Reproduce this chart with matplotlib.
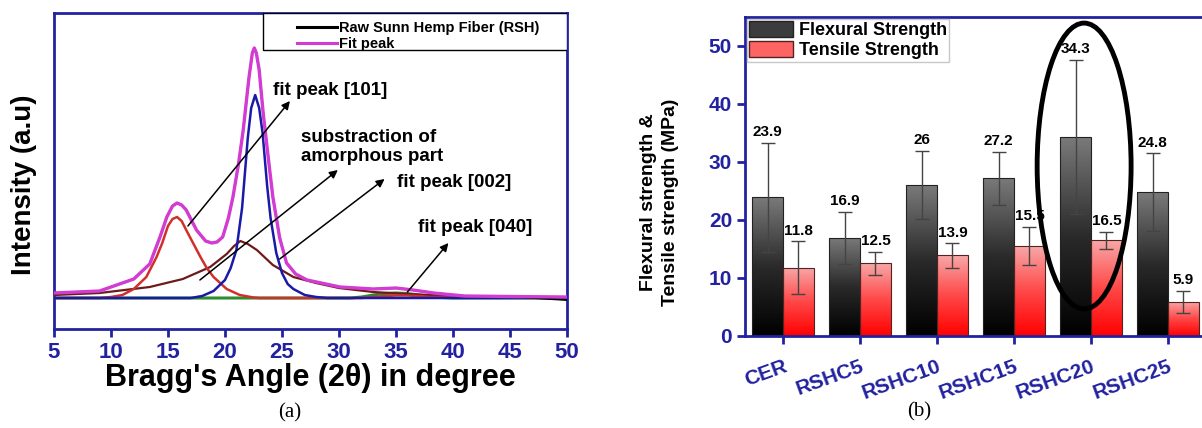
import numpy as np
import matplotlib
matplotlib.use('Agg')
import matplotlib.pyplot as plt
from matplotlib.patches import Ellipse, Patch, Rectangle
from matplotlib.colors import LinearSegmentedColormap

plt.rcParams['font.family'] = ['Liberation Sans', 'DejaVu Sans']
plt.rcParams['font.weight'] = 'bold'

BLUE = '#2222a0'

# ── (a) XRD curves (baseline = 0) ─────────────────────────────────────
blue_x = [5, 17, 18, 19, 20, 20.5, 21, 21.5, 22, 22.3, 22.65, 23, 23.3, 23.7,
          24, 24.5, 25, 25.5, 26, 26.5, 27, 28, 29, 50]
blue_y = [0, 0, 2, 7, 18, 30, 48, 90, 160, 190, 203, 190, 165, 112,
          80, 45, 25, 14, 9, 6, 3, 1, 0, 0]

red_x = [5, 9, 10, 11, 12, 13.1, 14.0, 14.5, 15.0, 15.4, 15.8, 16.2, 16.6, 17.2,
         17.85, 18.4, 19.0, 20.15, 21.3, 22.5, 23, 32, 33, 34, 35, 36, 37, 38, 50]
red_y = [0, 0, 1, 3, 9, 21, 41, 55, 72, 79, 81, 77, 68, 55,
         41, 30, 21, 9, 3, 0.5, 0, 0, 1, 2, 2.5, 2.5, 2, 1, 0]

amor_x = [5, 9, 13.4, 16.3, 18.7, 20.15, 20.8, 21.35, 22, 22.8, 24.2, 26, 28, 30,
          33, 36, 40, 45, 50]
amor_y = [3, 5, 11, 19, 31, 44, 52, 57, 54, 48, 33, 21, 15, 10,
          6, 4, 2, 1, 0.5]

green_x = [5, 31, 32, 33, 34, 35, 36, 37, 38, 39, 40, 50]
green_y = [0, 0, 1, 3, 4.5, 5, 4.5, 3, 1.5, 0.5, 0, 0]

fit_x = [5, 9, 12, 13.4, 14.3, 14.9, 15.4, 15.8, 16.2, 16.6, 17.5, 18.3, 18.83, 19.3,
         19.8, 20.3, 20.7, 21.2, 21.6, 22.1, 22.4, 22.57, 22.75, 23.0, 23.35, 23.8,
         24.2, 24.8, 25.4, 26.2, 27.2, 30.1, 33, 35, 36.5, 38.3, 41, 45, 50]
fit_y = [5, 7, 19, 34, 61, 81, 92, 95, 93, 88, 68, 57, 55, 56,
         61, 80, 101, 135, 168, 220, 245, 250, 245, 228, 185, 140,
         101, 60, 35, 24, 18, 11, 9, 10, 8, 5, 2, 1.5, 1]
raw_y = [5, 7, 19, 34, 61, 81, 92, 95, 93, 88, 68, 57, 55, 56,
         61, 80, 101, 135, 168, 220, 245, 250, 245, 228, 185, 140,
         101, 60, 35, 24, 18, 11, 9, 10, 8, 5, 2, 1.5, -2]

# ── (b) strength bars ─────────────────────────────────────────────────
samples = ['CER', 'RSHC5', 'RSHC10', 'RSHC15', 'RSHC20', 'RSHC25']
flexural = [23.9, 16.9, 26, 27.2, 34.3, 24.8]
flexural_err = [9.4, 4.5, 5.9, 4.6, 13.3, 6.7]
tensile = [11.8, 12.5, 13.9, 15.5, 16.5, 5.9]
tensile_err = [4.5, 2.0, 2.1, 3.3, 1.5, 1.9]
flex_labels = ['23.9', '16.9', '26', '27.2', '34.3', '24.8']
tens_labels = ['11.8', '12.5', '13.9', '15.5', '16.5', '5.9']

fig = plt.figure(figsize=(12.02, 4.28), dpi=100)

# ===================== panel (a) =====================
ax1 = fig.add_axes([0.0449, 0.2313, 0.4268, 0.7383])
ax1.plot(green_x, green_y, color='#2e8b2e', lw=2.2, zorder=2)
ax1.plot(amor_x, amor_y, color='#6e1a1a', lw=1.6, zorder=3)
ax1.plot(red_x, red_y, color='#d0302a', lw=1.8, zorder=3)
ax1.plot(blue_x, blue_y, color='#1a1aa8', lw=1.8, zorder=3)
l_raw, = ax1.plot(fit_x, raw_y, color='black', lw=1.4, zorder=4,
                  label='Raw Sunn Hemp Fiber (RSH)')
l_fit, = ax1.plot(fit_x, fit_y, color='#d23cd2', lw=2.4, zorder=5, label='Fit peak')

ax1.set_xlim(5, 50)
ax1.set_ylim(-31, 285)
ax1.set_xticks(range(5, 51, 5))
ax1.set_yticks([])
for s in ax1.spines.values():
    s.set_color(BLUE)
    s.set_linewidth(2)
ax1.tick_params(axis='x', direction='out', length=6, width=2, color=BLUE,
                labelcolor=BLUE, labelsize=16, pad=3)
for t in ax1.get_xticklabels():
    t.set_fontweight('bold')
ax1.set_xlabel("Bragg's Angle (2θ) in degree", fontsize=22, fontweight='bold', labelpad=0)
ax1.set_ylabel('Intensity (a.u)', fontsize=20, fontweight='bold')
ax1.yaxis.set_label_coords(-0.034, 0.456)

arrow = dict(arrowstyle='-|>', color='black', lw=1.1, mutation_scale=12, shrinkA=0, shrinkB=0)
ax1.annotate('', xy=(25.7, 197), xytext=(16.75, 72), arrowprops=arrow, zorder=6)
ax1.annotate('', xy=(29.9, 128), xytext=(17.8, 18), arrowprops=arrow, zorder=6)
ax1.annotate('', xy=(34.0, 119), xytext=(24.8, 39), arrowprops=arrow, zorder=6)
ax1.annotate('', xy=(39.6, 55), xytext=(36.0, 6), arrowprops=arrow, zorder=6)
tkw = dict(fontsize=13.5, fontweight='bold', va='center', ha='left')
ax1.text(24.2, 208, 'fit peak [101]', **tkw)
ax1.text(26.7, 151, 'substraction of\namorphous part', linespacing=1.15, **tkw)
ax1.text(35.1, 116, 'fit peak [002]', **tkw)
ax1.text(36.9, 71, 'fit peak [040]', **tkw)

# legend box: frame drawn separately so the entries can sit inside it
ax1.add_patch(Rectangle((0.407, 0.883), 0.593, 0.117, transform=ax1.transAxes,
                        facecolor='white', edgecolor='black', lw=1, zorder=7))
leg1 = ax1.legend(handles=[l_raw, l_fit], loc='upper left', frameon=False,
                  bbox_to_anchor=(0.474, 0.975), borderaxespad=0, borderpad=0,
                  handlelength=2.7, handletextpad=0.15, labelspacing=0.12,
                  prop={'size': 10.5, 'weight': 'bold'})
leg1.set_zorder(8)
for line in leg1.get_lines():
    line.set_linewidth(2.2)

fig.text(0.241, 0.035, '(a)', family='Liberation Serif', fontweight='normal',
         fontsize=15, ha='center', va='center')

# ===================== panel (b) =====================
ax2 = fig.add_axes([0.6194, 0.215, 0.3844, 0.7453])
x = np.arange(len(samples))
w = 0.4
flex_bars = ax2.bar(x - w / 2, flexural, w, color='none', edgecolor='#222222', lw=0.8, zorder=3)
tens_bars = ax2.bar(x + w / 2, tensile, w, color='none', edgecolor='#552222', lw=0.8, zorder=3)

grey_cmap = LinearSegmentedColormap.from_list('g', ['#000000', '#2a2a2a', '#7a7a7a'])
red_cmap = LinearSegmentedColormap.from_list('r', ['#ff0000', '#ff4848', '#f8a8a8'])
grad = np.linspace(0, 1, 256).reshape(-1, 1)
for bars, cmap in [(flex_bars, grey_cmap), (tens_bars, red_cmap)]:
    for b in bars:
        bx, by, bw, bh = b.get_x(), b.get_y(), b.get_width(), b.get_height()
        im = ax2.imshow(grad, extent=[bx, bx + bw, by, by + bh], origin='lower',
                        aspect='auto', cmap=cmap, zorder=2)
        im.set_clip_path(b)

ax2.errorbar(x - w / 2, flexural, yerr=flexural_err, fmt='none', ecolor='#444444',
             elinewidth=1, capsize=5, capthick=1, zorder=4)
ax2.errorbar(x + w / 2, tensile, yerr=tensile_err, fmt='none', ecolor='#444444',
             elinewidth=1, capsize=5, capthick=1, zorder=4)

for xi, v, e, lab in zip(x - w / 2, flexural, flexural_err, flex_labels):
    ax2.text(xi, v + e + 0.6, lab, ha='center', va='bottom', fontsize=11,
             fontweight='bold', zorder=5)
for xi, v, e, lab in zip(x + w / 2, tensile, tensile_err, tens_labels):
    ax2.text(xi, v + e + 0.6, lab, ha='center', va='bottom', fontsize=11,
             fontweight='bold', zorder=5)

ax2.add_patch(Ellipse((3.91, 29.3), 1.22, 49.3, fill=False, lw=3.5,
                      ec='black', zorder=6))

ax2.set_xlim(-0.5, 5.5)
ax2.set_ylim(0, 55)
ax2.set_yticks(range(0, 51, 10))
ax2.set_xticks(x)
ax2.set_xticklabels(samples, rotation=20, ha='right', rotation_mode='anchor')
for s in ax2.spines.values():
    s.set_color(BLUE)
    s.set_linewidth(2)
ax2.tick_params(axis='both', direction='out', length=6, width=2, color=BLUE,
                labelcolor=BLUE)
ax2.tick_params(axis='y', labelsize=15, pad=3)
ax2.tick_params(axis='x', labelsize=15, pad=9)
for t in ax2.get_xticklabels() + ax2.get_yticklabels():
    t.set_fontweight('bold')
ax2.set_ylabel('Flexural strength &\nTensile strength (MPa)', fontsize=14,
               fontweight='bold', linespacing=1.35)
ax2.yaxis.set_label_coords(-0.142, 0.42)

handles = [Patch(facecolor='#3c3c3c', edgecolor='#222222', label='Flexural Strength'),
           Patch(facecolor='#ff6464', edgecolor='#552222', label='Tensile Strength')]
leg2 = ax2.legend(handles=handles, loc='upper left', bbox_to_anchor=(0.006, 0.994),
                  borderaxespad=0, fancybox=False, handlelength=2.4, handleheight=1.0,
                  handletextpad=0.35, borderpad=0.12, labelspacing=0.1,
                  prop={'size': 13, 'weight': 'bold'})
leg2.get_frame().set_edgecolor('#bbbbbb')
leg2.set_zorder(7)

fig.text(0.765, 0.037, '(b)', family='Liberation Serif', fontweight='normal',
         fontsize=15, ha='center', va='center')

fig.savefig('out.png', dpi=100)
